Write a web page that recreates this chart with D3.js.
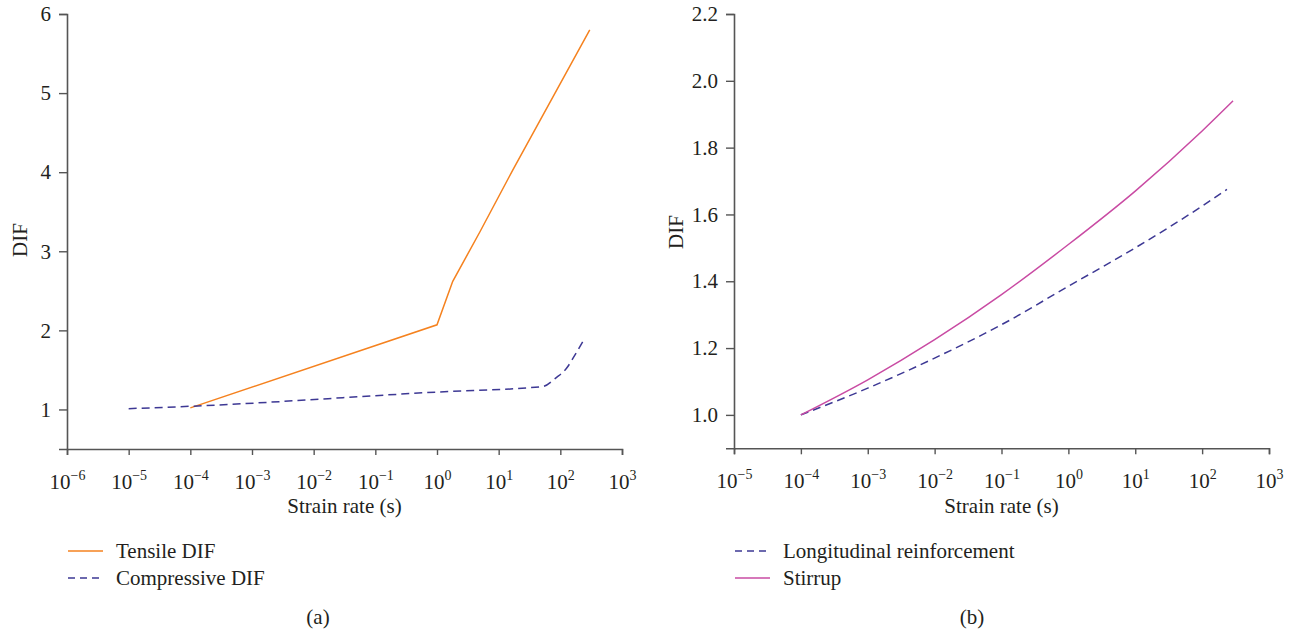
<!DOCTYPE html>
<html>
<head>
<meta charset="utf-8">
<script src="https://cdn.jsdelivr.net/npm/d3@7.9.0/dist/d3.min.js"></script>
<style>
  body { margin: 0; background: #fff; }
  text { font-family: "Liberation Serif", "DejaVu Serif", serif; fill: #231f20; }
</style>
</head>
<body>
<svg id="chart" width="1298" height="635"></svg>
<script>
// ---- data ----
// panel (a)
const tensileDIF = [
  { rate: 1e-4, dif: 1.02 },
  { rate: 1, dif: 2.07 },
  { rate: 1.8, dif: 2.62 },
  { rate: 5, dif: 3.25 },
  { rate: 17, dif: 4.03 },
  { rate: 300, dif: 5.80 }
];
const compressiveDIF = [
  { rate: 1e-5, dif: 1.01 },
  { rate: 1e-4, dif: 1.04 },
  { rate: 1, dif: 1.22 },
  { rate: 52, dif: 1.29 },
  { rate: 85, dif: 1.40 },
  { rate: 126, dif: 1.52 },
  { rate: 170, dif: 1.68 },
  { rate: 240, dif: 1.88 }
];
// panel (b)
const longitudinal = [
  { rate: 1e-4, dif: 1.00 },
  { rate: 1e-3, dif: 1.08 },
  { rate: 1e-2, dif: 1.17 },
  { rate: 1e-1, dif: 1.27 },
  { rate: 1, dif: 1.385 },
  { rate: 10, dif: 1.50 },
  { rate: 100, dif: 1.625 },
  { rate: 235, dif: 1.675 }
];
const stirrup = [
  { rate: 1e-4, dif: 1.00 },
  { rate: 1e-3, dif: 1.105 },
  { rate: 1e-2, dif: 1.225 },
  { rate: 1e-1, dif: 1.36 },
  { rate: 1, dif: 1.51 },
  { rate: 10, dif: 1.67 },
  { rate: 100, dif: 1.85 },
  { rate: 290, dif: 1.94 }
];

const xTicksA = [-6, -5, -4, -3, -2, -1, 0, 1, 2, 3];
const xTicksB = [-5, -4, -3, -2, -1, 0, 1, 2, 3];
const yTicksA = [1, 2, 3, 4, 5, 6];
const yTicksB = [1.0, 1.2, 1.4, 1.6, 1.8, 2.0, 2.2];

const ORANGE = '#f5821f';
const NAVY = '#3d3894';
const MAGENTA = '#c94ba3';
const AXIS = '#555';
const FS = '21px';

const svg = d3.select('#chart');

function drawPanel(opt) {
  const x = d3.scaleLog().domain(opt.xDomain).range(opt.xRange);
  const y = d3.scaleLinear().domain(opt.yDomain).range(opt.yRange);
  const g = svg.append('g');

  // x axis
  const xAxis = g.append('g')
    .attr('transform', `translate(0,${opt.yRange[0]})`)
    .call(d3.axisBottom(x).tickValues(opt.xTicks.map(e => Math.pow(10, e))).tickSize(6).tickPadding(6).tickFormat(''));
  xAxis.select('.domain').attr('stroke', AXIS).attr('stroke-width', 1.6);
  xAxis.selectAll('.tick line').attr('stroke', AXIS).attr('stroke-width', 1.4);
  xAxis.selectAll('.tick').each(function (d) {
    const t = d3.select(this).append('text')
      .attr('y', 40)
      .attr('text-anchor', 'middle')
      .style('font-size', FS);
    t.append('tspan').text('10');
    t.append('tspan').attr('dy', -9).style('font-size', '14px')
      .text(String(Math.round(Math.log10(d))).replace('-', '\u2212'));
  });

  // y axis
  const yAxis = g.append('g')
    .attr('transform', `translate(${opt.xRange[0]},0)`)
    .call(d3.axisLeft(y).tickValues(opt.yTicks).tickSize(8).tickPadding(8).tickFormat(opt.yFormat));
  yAxis.select('.domain').attr('stroke', AXIS).attr('stroke-width', 1.6);
  yAxis.selectAll('.tick line').attr('stroke', AXIS).attr('stroke-width', 1.4);
  yAxis.selectAll('.tick text').style('font-size', FS).attr('fill', '#231f20');

  // titles
  g.append('text')
    .attr('x', (opt.xRange[0] + opt.xRange[1]) / 2)
    .attr('y', 513)
    .attr('text-anchor', 'middle')
    .style('font-size', FS)
    .text('Strain rate (s)');
  g.append('text')
    .attr('transform', `translate(${opt.yTitleX},${opt.yTitleY}) rotate(-90)`)
    .attr('text-anchor', 'middle')
    .style('font-size', FS)
    .text('DIF');

  const line = curve => d3.line().x(d => x(d.rate)).y(d => y(d.dif)).curve(curve);
  opt.series.forEach(s => {
    g.append('path')
      .datum(s.data)
      .attr('fill', 'none')
      .attr('stroke', s.color)
      .attr('stroke-width', 1.5)
      .attr('stroke-dasharray', s.dash || null)
      .attr('d', line(s.curve)(s.data));
  });

  // legend
  opt.series.forEach((s, i) => {
    const ly = 551 + i * 27;
    g.append('line')
      .attr('x1', opt.legendX).attr('x2', opt.legendX + 35)
      .attr('y1', ly).attr('y2', ly)
      .attr('stroke', s.color).attr('stroke-width', 1.5)
      .attr('stroke-dasharray', s.dash ? '7,5' : null);
    g.append('text')
      .attr('x', opt.legendX + 48).attr('y', ly + 7)
      .style('font-size', FS)
      .text(s.name);
  });

  g.append('text')
    .attr('x', opt.captionX).attr('y', 624)
    .attr('text-anchor', 'middle')
    .style('font-size', FS)
    .text(opt.caption);
}

drawPanel({
  xDomain: [1e-6, 1e3], xRange: [67, 622],
  yDomain: [0.5, 6], yRange: [449, 14],
  xTicks: xTicksA, yTicks: yTicksA, yFormat: d3.format('d'),
  yTitleX: 27, yTitleY: 240,
  legendX: 68, captionX: 318, caption: '(a)',
  series: [
    { name: 'Tensile DIF', data: tensileDIF, color: ORANGE, curve: d3.curveLinear },
    { name: 'Compressive DIF', data: compressiveDIF, color: NAVY, dash: '8,5', curve: d3.curveMonotoneX }
  ]
});

drawPanel({
  xDomain: [1e-5, 1e3], xRange: [734, 1269],
  yDomain: [0.9, 2.2], yRange: [448.3, 14],
  xTicks: xTicksB, yTicks: yTicksB, yFormat: d3.format('.1f'),
  yTitleX: 683, yTitleY: 232,
  legendX: 735, captionX: 972, caption: '(b)',
  series: [
    { name: 'Longitudinal reinforcement', data: longitudinal, color: NAVY, dash: '8,5', curve: d3.curveMonotoneX },
    { name: 'Stirrup', data: stirrup, color: MAGENTA, curve: d3.curveMonotoneX }
  ]
});
</script>
</body>
</html>
